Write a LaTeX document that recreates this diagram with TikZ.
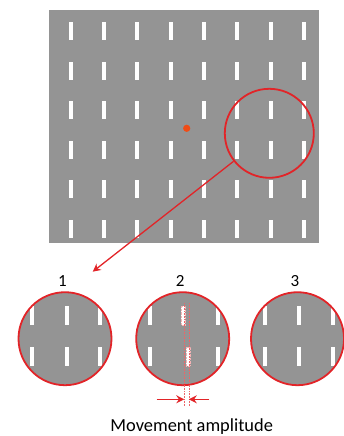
\documentclass[tikz,border=0pt]{standalone}
\usepackage{fontspec}
\setmainfont{Carlito}
\usetikzlibrary{arrows.meta,positioning}
\definecolor{stimgray}{RGB}{148,148,148}
\definecolor{markred}{RGB}{226,36,40}
\definecolor{fixdot}{RGB}{240,76,22}

\begin{document}
\begin{tikzpicture}[x=1pt,y=-1pt,font=\fontsize{18.4}{21}\selectfont,
  bar/.style={fill=white,draw=none},
  movbar/.style={fill=white,draw=markred!35,densely dotted,line width=0.4pt},
  lens/.style={circle,draw=markred,line width=1.8pt,minimum size=93pt,inner sep=0pt},
  ar/.style={-{Stealth[length=8pt,width=8pt]},markred,line width=1.5pt},
  guide/.style={markred!70,densely dotted,line width=0.6pt},
  num/.style={font=\fontsize{17}{20}\selectfont,xshift=-2.5pt},
]
\useasboundingbox (0,0) rectangle (344,436);

% stimulus field
\fill[stimgray] (49,10) rectangle (319,243);
\foreach \i in {0,...,7}
  \foreach \j in {0,...,5}
    \fill[bar] ({68.7+33.33*\i},{22.5+39.4*\j}) rectangle +(4,18);
\fill[fixdot] (186.7,128.3) circle (3.6pt);

% zoomed region
\node[lens,minimum size=89pt,fill=none] (zoom) at (269.3,133.3) {};
\coordinate (tip) at (92.7,271.7);
\draw[ar,line width=1.3pt] (zoom) -- (tip);

% the three frames
\foreach \c/\cx in {c1/65,c2/182.7,c3/297.5}{
  \begin{scope}
    \clip (\cx,338.7) circle (46.5pt);
    \fill[stimgray] (\cx,338.7) circle (46.5pt);
    \foreach \dx in {-35,33}
      \foreach \yy in {306,347}
        \fill[bar] ({\cx+\dx},\yy) rectangle +(4,19);
  \end{scope}
  \node[lens] (\c) at (\cx,338.7) {};
}
\fill[bar] (64.5,306) rectangle +(4,19);
\fill[bar] (64.5,347) rectangle +(4,19);
\fill[bar] (297,306) rectangle +(4,19);
\fill[bar] (297,347) rectangle +(4,19);
\draw[movbar] (181.3,306) rectangle +(4,19);
\draw[movbar] (185.8,347) rectangle +(4,19);

\node[num,above=1pt of c1] (l1) {1};
\node[num,above=1pt of c2] (l2) {2};
\node[num,above=1pt of c3] (l3) {3};

% amplitude
\coordinate (g1top) at (184.3,303);
\coordinate (g1bot) at (184.3,406);
\coordinate (g2top) at (188.8,303);
\coordinate (g2bot) at (188.8,406);
\draw[guide] (g1top) -- (g1bot);
\draw[guide] (g2top) -- (g2bot);
\coordinate (la) at (156.7,399.3);
\coordinate (ra) at (209.3,399.3);
\draw[ar] (la) -- (la -| g1top);
\draw[ar] (ra) -- (ra -| g2top);

\node[anchor=base] (amp) at (191.7,431.3) {Movement amplitude};
\end{tikzpicture}
\end{document}
